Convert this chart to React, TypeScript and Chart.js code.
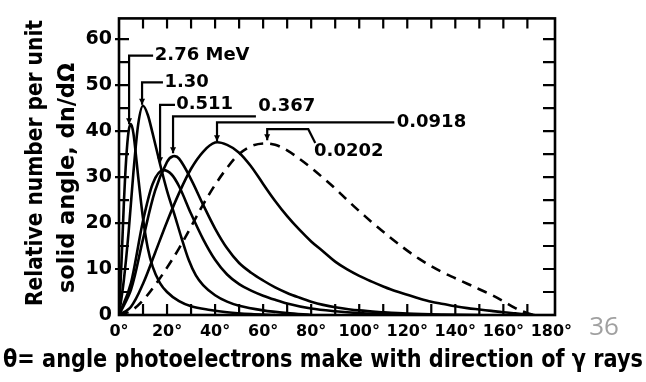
import React, { useEffect, useRef } from 'react';
import { Chart, registerables } from 'chart.js';

Chart.register(...registerables);

// ---- data (angle in degrees, relative number per unit solid angle) ----
const theta276 = [0, 1, 2, 3, 4, 5, 6, 7, 8, 10, 12, 14, 17, 20, 25, 30, 38, 45, 55, 65];
const dn276 = [0, 11, 24, 34, 40, 41.5, 39.5, 35, 30, 21, 14.5, 10.5, 7, 5, 3, 1.9, 1.1, 0.6, 0.2, 0];

const theta130 = [0, 2, 4, 6, 8, 10, 12, 14, 17, 20, 23, 26, 29, 32, 35, 40, 45, 50, 60, 70, 80];
const dn130 = [0, 7.5, 18, 31, 41.5, 45.5, 43.5, 39.5, 33, 27, 22, 16.8, 12, 8.6, 6.5, 4.3, 2.9, 2, 1, 0.4, 0];

const theta511 = [0, 5, 10, 14, 18.5, 22, 25, 30, 35, 40, 45, 50, 55, 60, 65, 70, 80, 90, 100, 115, 130];
const dn511 = [0, 7, 20.5, 28.5, 31.5, 30.5, 28, 22, 16.5, 12, 8.8, 6.7, 5.3, 4.2, 3.3, 2.5, 1.4, 0.8, 0.4, 0.1, 0];

const theta367 = [0, 5, 10, 15, 20, 22.5, 25, 30, 35, 40, 45, 50, 55, 60, 65, 70, 75, 80, 85, 90, 100, 110, 120, 135, 150];
const dn367 = [0, 5.5, 16.5, 27, 33.3, 34.5, 34, 29.5, 24, 18.8, 14.5, 11.3, 9.2, 7.5, 6, 4.8, 3.8, 2.9, 2.2, 1.7, 1, 0.6, 0.3, 0.1, 0];

const theta0918 = [0, 5, 10, 15, 20, 25, 30, 35, 40, 45, 50, 55, 60, 65, 70, 75, 80, 85, 90, 95, 100, 105, 110, 115, 120, 125, 130, 135, 140, 145, 150, 155, 160, 165, 170, 173];
const dn0918 = [0, 1.8, 6.8, 13.5, 20.3, 26.5, 31.8, 35.5, 37.5, 37, 35.3, 32.3, 28.5, 24.8, 21.5, 18.6, 16, 13.8, 11.6, 9.9, 8.5, 7.3, 6.2, 5.2, 4.4, 3.6, 2.9, 2.4, 1.9, 1.5, 1.2, 0.9, 0.6, 0.35, 0.1, 0];

const theta0202 = [0, 5, 10, 15, 20, 25, 30, 35, 40, 45, 50, 55, 60, 65, 70, 75, 80, 85, 90, 95, 100, 105, 110, 115, 120, 125, 130, 135, 140, 145, 150, 155, 160, 165, 170, 173];
const dn0202 = [0, 0.9, 3.2, 6.5, 10.3, 14.5, 19.2, 24, 28.3, 32, 35, 36.7, 37.3, 37, 35.8, 34, 32, 29.8, 27.5, 25, 22.6, 20.3, 18.1, 16, 14, 12.2, 10.6, 9.2, 8, 6.8, 5.6, 4.4, 3, 1.5, 0.4, 0];

const seriesNames = ['2.76 MeV', '1.30', '0.511', '0.367', '0.0918', '0.0202'];

const xTickValues = [0, 20, 40, 60, 80, 100, 120, 140, 160, 180];
const xMinorTicks = [10, 20, 30, 40, 50, 60, 70, 80, 90, 100, 110, 120, 130, 140, 150, 160, 170];
const yTickValues = [0, 10, 20, 30, 40, 50, 60];
const yMinorTicks = [5, 10, 15, 20, 25, 30, 35, 40, 45, 50, 55, 60];

const xTitle = 'θ= angle photoelectrons make with direction of γ rays';
const yTitleLine1 = 'Relative number per unit';
const yTitleLine2 = 'solid angle, dn/dΩ';
const pageNumber = '36';

// leader-line annotations, in data units (θ, value)
const notes = [
  { text: '2.76 MeV', path: [[4.2, 41.5], [4.2, 56.4], [14.2, 56.4]], at: [14.9, 56.4] },
  { text: '1.30', path: [[9.6, 45.7], [9.6, 50.6], [18.3, 50.6]], at: [18.9, 50.6] },
  { text: '0.511', path: [[17.1, 33], [17.1, 45.7], [23.3, 45.7]], at: [23.8, 45.9] },
  { text: '0.367', path: [[22.5, 35.2], [22.5, 43.2], [57, 43.2]], at: [58.0, 45.3] },
  { text: '0.0918', path: [[40.8, 37.8], [40.8, 41.9], [114.6, 41.9]], at: [115.6, 41.9] },
  { text: '0.0202', path: [[61.7, 38.0], [61.7, 40.4], [78.8, 40.4], [81.7, 37.4]], at: [81.2, 35.6] },
];

const pts = (xs: number[], ys: number[]) => xs.map((x, i) => ({ x, y: ys[i] }));

const FONT = 'DejaVu Sans';

const decorPlugin = {
  id: 'decor',
  afterDatasetsDraw(chart: any) {
    const { ctx, chartArea: a, scales } = chart;
    const xs = scales.x;
    const ys = scales.y;
    ctx.save();
    ctx.strokeStyle = '#000';
    ctx.fillStyle = '#000';
    ctx.lineWidth = 2.6;
    ctx.strokeRect(a.left, a.top, a.right - a.left, a.bottom - a.top);
    ctx.lineWidth = 2.2;
    ctx.beginPath();
    xMinorTicks.forEach((v) => {
      const px = xs.getPixelForValue(v);
      ctx.moveTo(px, a.bottom);
      ctx.lineTo(px, a.bottom - 11);
      ctx.moveTo(px, a.top);
      ctx.lineTo(px, a.top + 10);
    });
    yMinorTicks.forEach((v) => {
      const py = ys.getPixelForValue(v);
      const major = v % 10 === 0;
      ctx.moveTo(a.left - (major ? 4 : 0), py);
      ctx.lineTo(a.left + 10, py);
      ctx.moveTo(a.right, py);
      ctx.lineTo(a.right - 12, py);
    });
    ctx.stroke();
    ctx.lineWidth = 2.2;
    ctx.font = `bold 18px "${FONT}"`;
    ctx.textBaseline = 'middle';
    ctx.textAlign = 'left';
    notes.forEach((n) => {
      ctx.beginPath();
      n.path.forEach(([tx, ty], i) => {
        const px = xs.getPixelForValue(tx);
        const py = ys.getPixelForValue(ty);
        if (i === 0) ctx.moveTo(px, py);
        else ctx.lineTo(px, py);
      });
      ctx.stroke();
      const [sx, sy] = n.path[0];
      const hx = xs.getPixelForValue(sx);
      const hy = ys.getPixelForValue(sy);
      ctx.beginPath();
      ctx.moveTo(hx - 3, hy - 6);
      ctx.lineTo(hx + 3, hy - 6);
      ctx.lineTo(hx, hy);
      ctx.closePath();
      ctx.fill();
      ctx.fillText(n.text, xs.getPixelForValue(n.at[0]), ys.getPixelForValue(n.at[1]));
    });
    ctx.restore();
  },
  afterDraw(chart: any) {
    const { ctx } = chart;
    ctx.save();
    ctx.fillStyle = '#000';
    ctx.textAlign = 'center';
    ctx.textBaseline = 'middle';
    ctx.font = `bold 24px "${FONT}"`;
    ctx.fillText(xTitle, 323, 361, 640);
    ctx.save();
    ctx.translate(36, 163);
    ctx.rotate(-Math.PI / 2);
    ctx.font = `bold 23px "${FONT}"`;
    ctx.fillText(yTitleLine1, 0, 0, 286);
    ctx.restore();
    ctx.save();
    ctx.translate(68, 178);
    ctx.rotate(-Math.PI / 2);
    ctx.font = `bold 23px "${FONT}"`;
    ctx.fillText(yTitleLine2, 0, 0, 230);
    ctx.restore();
    ctx.fillStyle = '#a0a0a0';
    ctx.font = `26px "Open Sans"`;
    ctx.fillText(pageNumber, 604, 328);
    ctx.restore();
  },
};

export default function App() {
  const ref = useRef<HTMLCanvasElement | null>(null);
  useEffect(() => {
    if (!ref.current) return;
    const steep = { borderColor: '#000', borderWidth: 2.6, pointRadius: 0, fill: false, cubicInterpolationMode: 'monotone' as const };
    const smooth = { borderColor: '#000', borderWidth: 2.6, pointRadius: 0, fill: false, tension: 0.35 };
    const chart = new Chart(ref.current, {
      type: 'line',
      data: {
        datasets: [
          { label: seriesNames[0], data: pts(theta276, dn276), ...steep },
          { label: seriesNames[1], data: pts(theta130, dn130), ...steep },
          { label: seriesNames[2], data: pts(theta511, dn511), ...steep },
          { label: seriesNames[3], data: pts(theta367, dn367), ...smooth },
          { label: seriesNames[4], data: pts(theta0918, dn0918), ...smooth },
          { label: seriesNames[5], data: pts(theta0202, dn0202), ...smooth, borderDash: [10, 7] },
        ],
      },
      options: {
        responsive: false,
        animation: false,
        events: [],
        layout: { padding: { left: 0, top: 12, right: 91, bottom: 0 } },
        plugins: { legend: { display: false }, tooltip: { enabled: false } },
        scales: {
          x: {
            type: 'linear',
            min: 0,
            max: 181.5,
            grid: { display: false, drawTicks: false },
            border: { display: false },
            afterBuildTicks: (s: any) => {
              s.ticks = xTickValues.map((v) => ({ value: v }));
            },
            afterFit: (s: any) => {
              s.height = 67;
            },
            ticks: {
              padding: 7,
              color: '#000',
              autoSkip: false,
              maxRotation: 0,
              font: { family: FONT, weight: 'bold', size: 16 },
              callback: (v: any) => `${v}°`,
            },
          },
          y: {
            type: 'linear',
            min: 0,
            max: 64.5,
            grid: { display: false, drawTicks: false },
            border: { display: false },
            afterBuildTicks: (s: any) => {
              s.ticks = yTickValues.map((v) => ({ value: v }));
            },
            afterFit: (s: any) => {
              s.width = 119;
            },
            ticks: {
              padding: 7,
              color: '#000',
              autoSkip: false,
              font: { family: FONT, weight: 'bold', size: 19 },
              callback: (v: any) => `${v}`,
            },
          },
        },
      },
      plugins: [decorPlugin],
    });
    return () => chart.destroy();
  }, []);
  return (
    <div style={{ position: 'absolute', left: 0, top: 0, width: 646, height: 382, background: '#fff' }}>
      <canvas ref={ref} width={646} height={382} style={{ display: 'block' }} />
    </div>
  );
}
